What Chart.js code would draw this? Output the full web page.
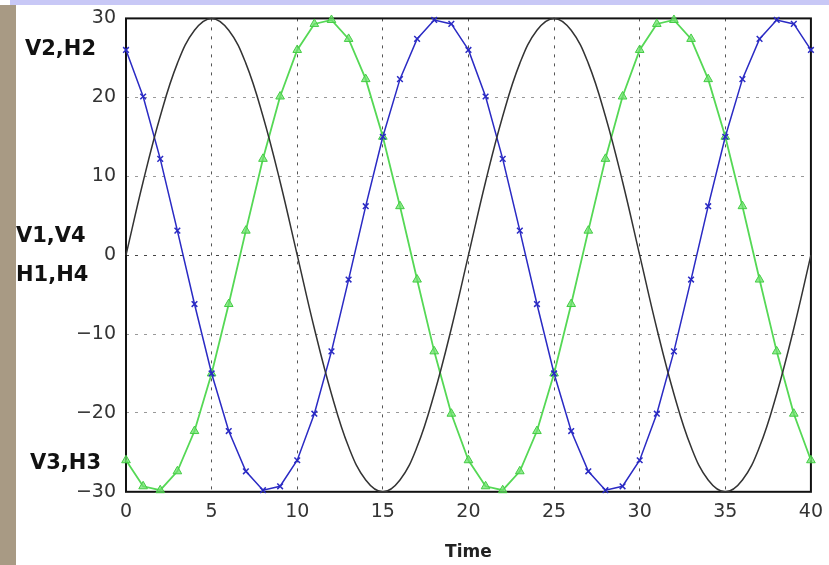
<!DOCTYPE html>
<html>
<head>
<meta charset="utf-8">
<script src="https://cdn.jsdelivr.net/npm/chart.js@4.4.1/dist/chart.umd.min.js"></script>
<style>
  html, body { margin: 0; padding: 0; background: #ffffff; }
  #wrap { position: relative; width: 829px; height: 565px; overflow: hidden; }
  #band { position: absolute; left: 10px; top: 0; width: 819px; height: 5px; background: #c8c8f6; }
  #strip { position: absolute; left: 0; top: 5px; width: 16px; height: 560px; background: #a89a84; }
  #chartjs-waves { position: absolute; left: 0; top: -3px; }
</style>
</head>
<body>
<div id="wrap">
  <div id="band"></div>
  <div id="strip"></div>
  <canvas id="chartjs-waves" width="832" height="568"></canvas>
</div>
<script>
// tijd-as
var time = [0, 1, 2, 3, 4, 5, 6, 7, 8, 9, 10, 11, 12, 13, 14, 15, 16, 17, 18, 19, 20,
            21, 22, 23, 24, 25, 26, 27, 28, 29, 30, 31, 32, 33, 34, 35, 36, 37, 38, 39, 40];

// zwarte lijn (V1,V4 / H1,H4)
var blackWave = [0, 9.3, 17.6, 24.3, 28.5, 30, 28.5, 24.3, 17.6, 9.3,
                 0, -9.3, -17.6, -24.3, -28.5, -30, -28.5, -24.3, -17.6, -9.3,
                 0, 9.3, 17.6, 24.3, 28.5, 30, 28.5, 24.3, 17.6, 9.3,
                 0, -9.3, -17.6, -24.3, -28.5, -30, -28.5, -24.3, -17.6, -9.3, 0];

// blauwe lijn met kruisjes (V2,H2)
var blueWave = [26.0, 20.1, 12.2, 3.1, -6.2, -15.0, -22.3, -27.4, -29.8, -29.3,
                -26.0, -20.1, -12.2, -3.1, 6.2, 15.0, 22.3, 27.4, 29.8, 29.3,
                26.0, 20.1, 12.2, 3.1, -6.2, -15.0, -22.3, -27.4, -29.8, -29.3,
                -26.0, -20.1, -12.2, -3.1, 6.2, 15.0, 22.3, 27.4, 29.8, 29.3, 26.0];

// groene lijn met driehoekjes (V3,H3)
var greenWave = [-26.0, -29.3, -29.8, -27.4, -22.3, -15.0, -6.2, 3.1, 12.2, 20.1,
                 26.0, 29.3, 29.8, 27.4, 22.3, 15.0, 6.2, -3.1, -12.2, -20.1,
                 -26.0, -29.3, -29.8, -27.4, -22.3, -15.0, -6.2, 3.1, 12.2, 20.1,
                 26.0, 29.3, 29.8, 27.4, 22.3, 15.0, 6.2, -3.1, -12.2, -20.1, -26.0];

var xTicks = [0, 5, 10, 15, 20, 25, 30, 35, 40];
var yTicks = [-30, -20, -10, 0, 10, 20, 30];

// labels links van de y-as, bij de startwaarde van elke lijn
var sideLabels = ["V2,H2", "V1,V4", "H1,H4", "V3,H3"];
var sideValues = [blueWave[0], blackWave[0], blackWave[0], greenWave[0]];

function pts(values) {
    return time.map(function(t, i) { return { x: t, y: values[i] }; });
}

// kader rond het plotgebied
var framePlugin = {
    id: "frame",
    beforeDatasetsDraw: function(chart) {
        var a = chart.chartArea, c = chart.ctx;
        c.save();
        c.strokeStyle = "#111";
        c.lineWidth = 2;
        c.strokeRect(a.left, a.top, a.right - a.left, a.bottom - a.top);
        c.restore();
    }
};

var sideLabelPlugin = {
    id: "sideLabels",
    afterDraw: function(chart) {
        var c = chart.ctx, y = chart.scales.y;
        var xs = [25, 16, 16, 30];
        var shift = [0, -19, 20, 3];
        c.save();
        c.font = "bold 21px 'DejaVu Sans'";
        c.fillStyle = "#111";
        c.textAlign = "left";
        c.textBaseline = "middle";
        sideLabels.forEach(function(txt, i) {
            c.fillText(txt, xs[i], y.getPixelForValue(sideValues[i]) + shift[i]);
        });
        c.restore();
    }
};

document.addEventListener("DOMContentLoaded", function() {
    var ctx = document.getElementById("chartjs-waves");

    var data = {
        datasets: [{
            label: "V1,V4 H1,H4",
            data: pts(blackWave),
            borderColor: "#333333",
            borderWidth: 1.5,
            pointRadius: 0,
            tension: 0.4,
            clip: false
        }, {
            label: "V2,H2",
            data: pts(blueWave),
            borderColor: "#2a2ac4",
            borderWidth: 1.5,
            pointStyle: "crossRot",
            pointRadius: 4,
            pointBorderColor: "#2a2ac4",
            pointBorderWidth: 1.5,
            tension: 0,
            clip: false
        }, {
            label: "V3,H3",
            data: pts(greenWave),
            borderColor: "#55d855",
            borderWidth: 1.8,
            pointStyle: "triangle",
            pointRadius: 5,
            pointBackgroundColor: "rgba(110,225,110,0.75)",
            pointBorderColor: "#44cc44",
            pointBorderWidth: 1,
            tension: 0,
            clip: false
        }]
    };

    var options = {
        responsive: false,
        animation: false,
        layout: { padding: { left: 0, right: 12, top: 14, bottom: 0 } },
        plugins: {
            legend: { display: false },
            tooltip: { enabled: false }
        },
        scales: {
            x: {
                type: "linear",
                min: 0,
                max: 40,
                afterBuildTicks: function(s) { s.ticks = xTicks.map(function(v) { return { value: v }; }); },
                ticks: { padding: 9, color: "#333", font: { family: "DejaVu Sans", size: 19 } },
                grid: { color: "#555", lineWidth: 1, drawTicks: false },
                border: { display: false, dash: [3, 6] },
                title: {
                    display: true,
                    text: "Time",
                    color: "#222",
                    font: { family: "DejaVu Sans", size: 17, weight: "bold" },
                    padding: { top: 10, bottom: 2 }
                }
            },
            y: {
                min: -30,
                max: 30,
                afterBuildTicks: function(s) { s.ticks = yTicks.map(function(v) { return { value: v }; }); },
                afterFit: function(s) { s.width = 126; },
                ticks: {
                    padding: 10,
                    color: "#333",
                    font: { family: "DejaVu Sans", size: 19 },
                    callback: function(v) { return String(v).replace("-", "\u2212"); }
                },
                grid: {
                    color: function(c) { return c.tick && c.tick.value === 0 ? "#444" : "#999"; },
                    lineWidth: 1,
                    drawTicks: false
                },
                border: { display: false, dash: [3, 6] }
            }
        }
    };

    new Chart(ctx, {
        type: "line",
        data: data,
        options: options,
        plugins: [framePlugin, sideLabelPlugin]
    });
});
</script>
</body>
</html>
